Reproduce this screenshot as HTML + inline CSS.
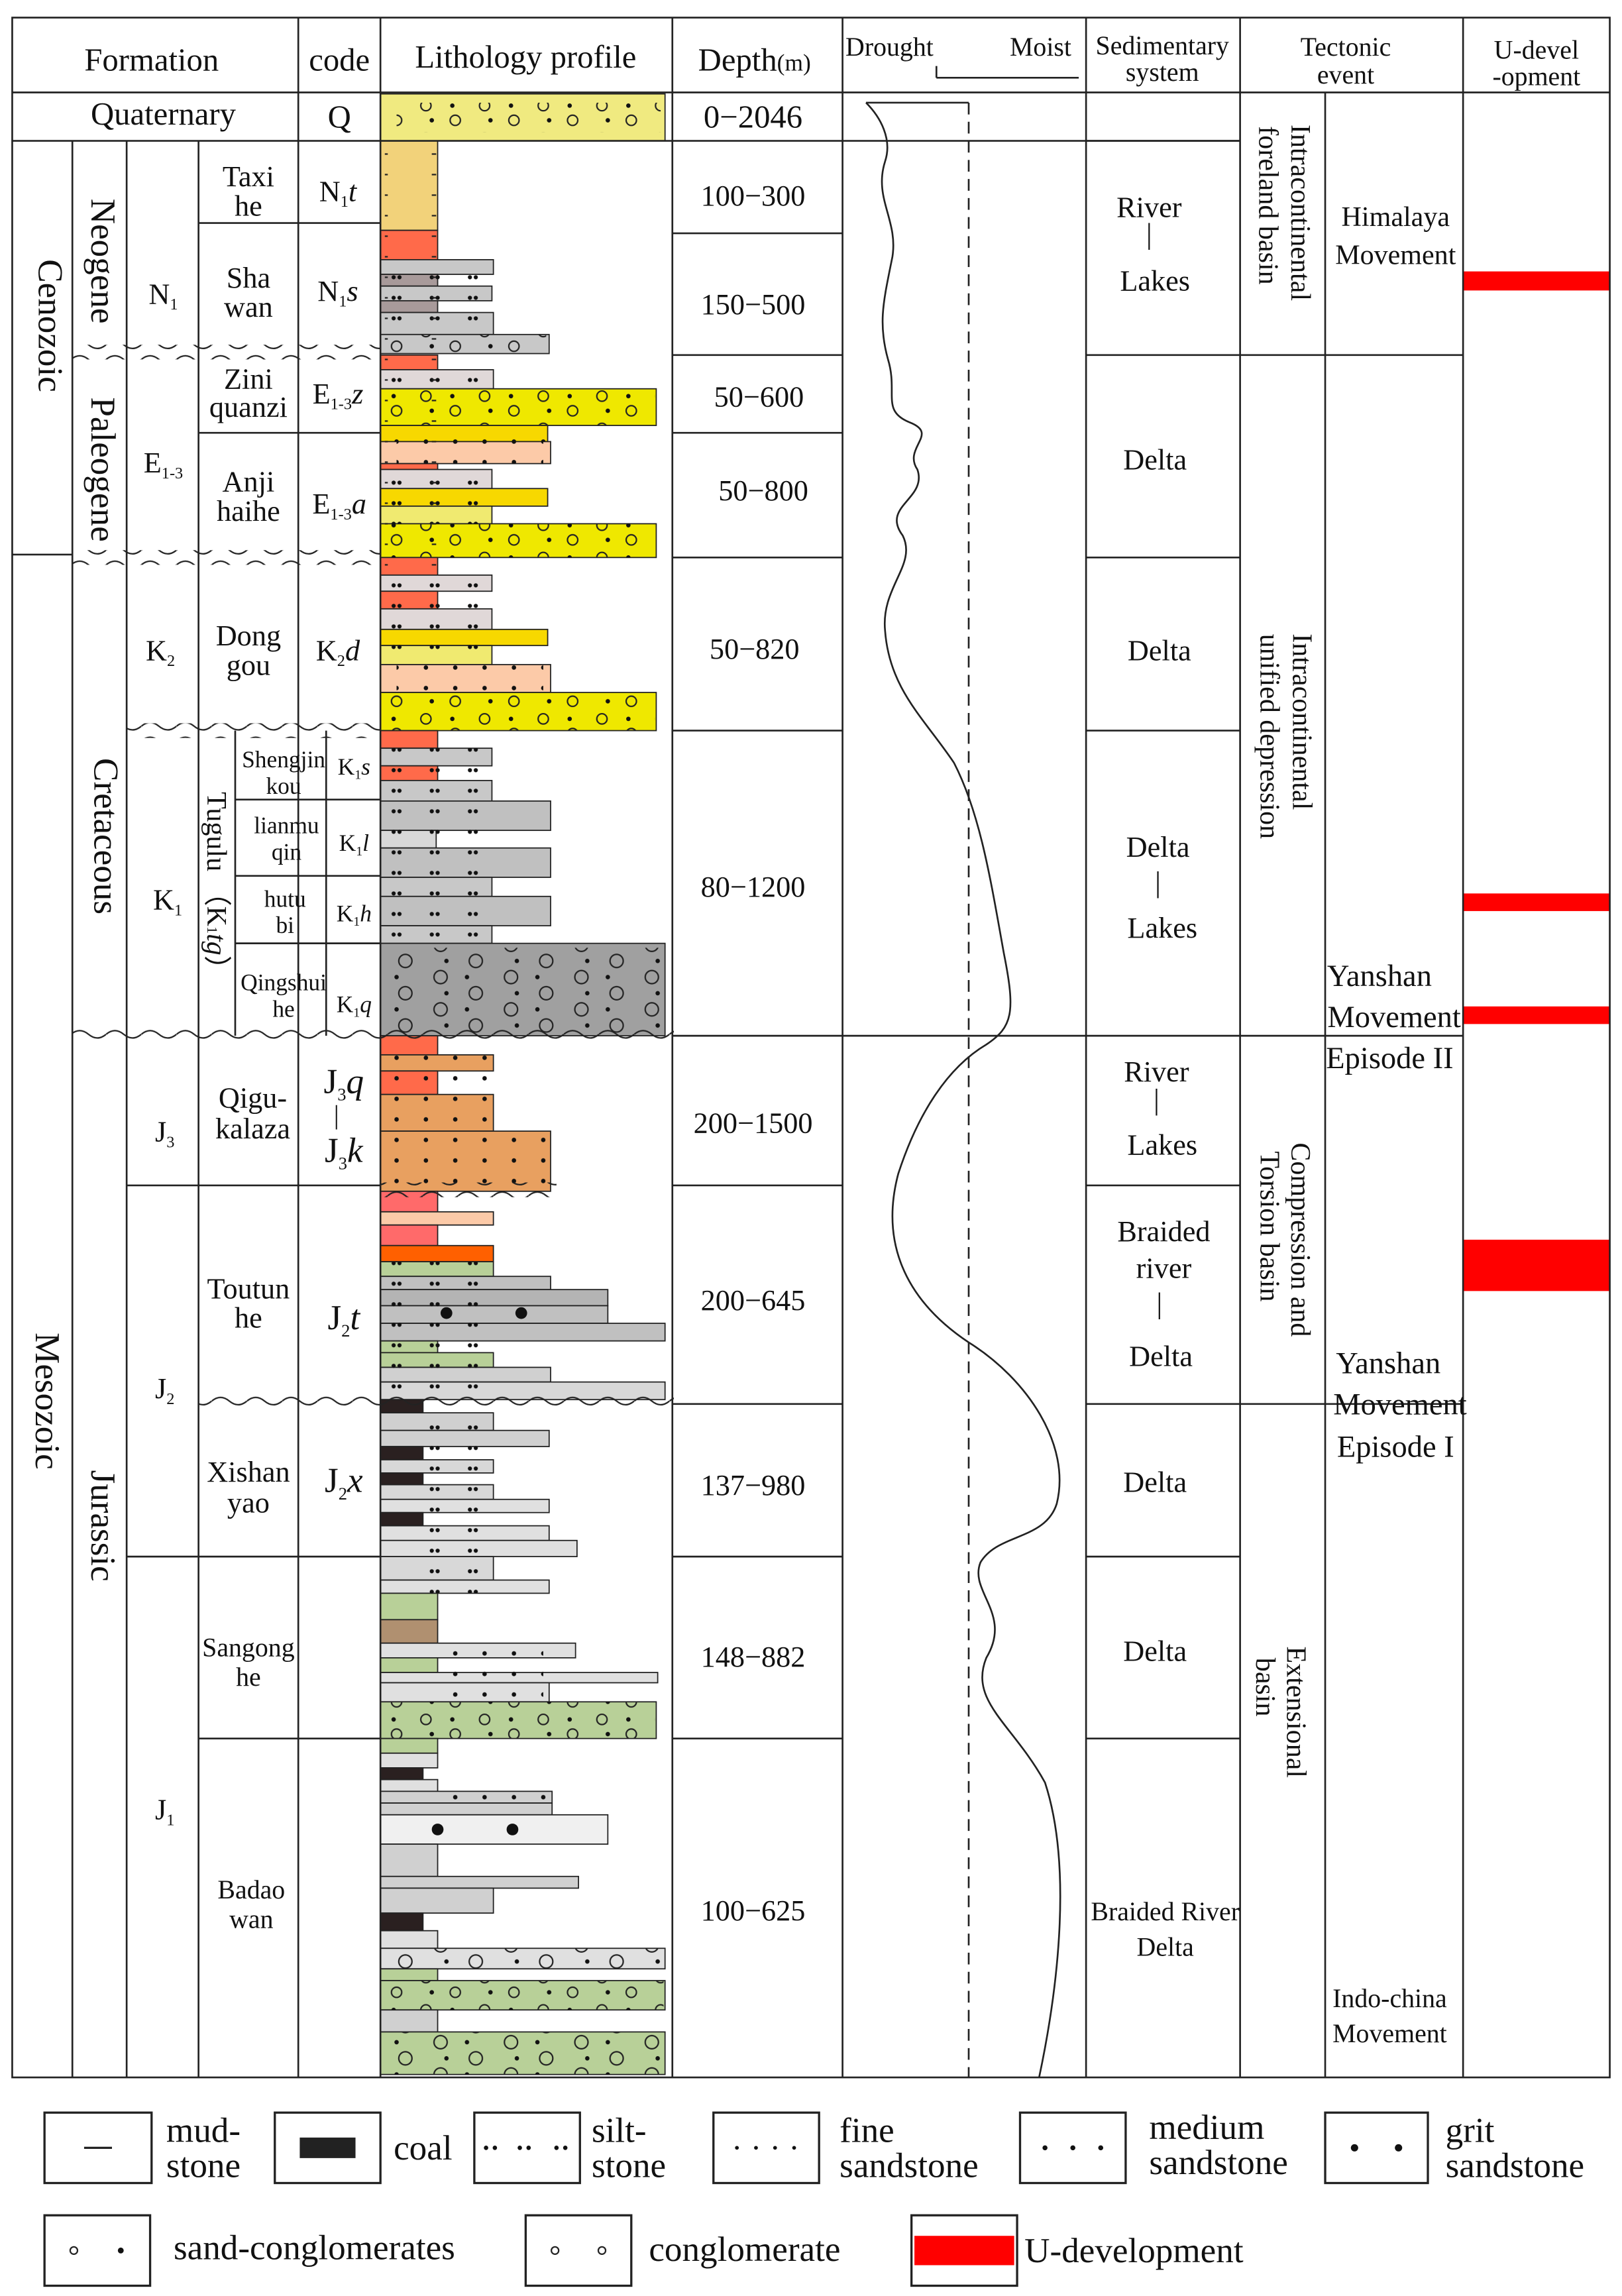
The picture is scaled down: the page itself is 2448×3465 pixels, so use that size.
<!DOCTYPE html>
<html><head><meta charset="utf-8"><style>html,body{margin:0;padding:0;background:#fff}svg{display:block}</style></head><body>
<svg xmlns="http://www.w3.org/2000/svg" width="2448" height="3465" viewBox="0 0 1105 1565" font-family="Liberation Serif, serif" fill="#111">
<defs>
<pattern id="wave" width="24" height="10" patternUnits="userSpaceOnUse"><path d="M0,5 Q6,0 12,5 T24,5" fill="none" stroke="#222" stroke-width="1"/></pattern>
<pattern id="silt" width="26" height="14" patternUnits="userSpaceOnUse"><circle cx="8" cy="7" r="1.4" fill="#111"/><circle cx="12" cy="7" r="1.4" fill="#111"/></pattern>
<pattern id="sand" width="20" height="14" patternUnits="userSpaceOnUse"><circle cx="10" cy="7" r="1.5" fill="#111"/></pattern>
<pattern id="cong" width="40" height="22" patternUnits="userSpaceOnUse"><circle cx="10" cy="6" r="3.5" fill="none" stroke="#222"/><circle cx="28" cy="6" r="1.5" fill="#111"/><circle cx="30" cy="16" r="3.5" fill="none" stroke="#222"/><circle cx="14" cy="16" r="1.5" fill="#111"/></pattern>
<pattern id="big" width="48" height="22" patternUnits="userSpaceOnUse"><circle cx="12" cy="6" r="4.5" fill="none" stroke="#222"/><circle cx="30" cy="6" r="1.5" fill="#111"/><circle cx="36" cy="17" r="4.5" fill="none" stroke="#222"/><circle cx="16" cy="17" r="1.5" fill="#111"/></pattern>
<pattern id="mud" width="40" height="14" patternUnits="userSpaceOnUse"><line x1="14" y1="7" x2="24" y2="7" stroke="#222"/></pattern>
</defs>
<g stroke="#222" stroke-width="0.8">
<rect x="259" y="64" width="194" height="32" fill="#f0ea80"/>
<rect x="259" y="96" width="39" height="61" fill="#f2d27a"/>
<rect x="259" y="157" width="39" height="20" fill="#ff6a4a"/>
<rect x="259" y="177" width="77" height="10" fill="#c8c8c8"/>
<rect x="259" y="187" width="39" height="8" fill="#a89a9a"/>
<rect x="259" y="195" width="76" height="10" fill="#c8c8c8"/>
<rect x="259" y="205" width="39" height="8" fill="#a89a9a"/>
<rect x="259" y="213" width="77" height="15" fill="#c8c8c8"/>
<rect x="259" y="228" width="115" height="13" fill="#c8c8c8"/>
<rect x="259" y="242" width="39" height="10" fill="#ff6a4a"/>
<rect x="259" y="252" width="77" height="13" fill="#e0d8d8"/>
<rect x="259" y="265" width="188" height="25" fill="#efe800"/>
<rect x="259" y="290" width="114" height="11" fill="#f7d800"/>
<rect x="259" y="301" width="116" height="15" fill="#fccaa8"/>
<rect x="259" y="316" width="39" height="4" fill="#ff6a4a"/>
<rect x="259" y="320" width="76" height="13" fill="#e0d8d8"/>
<rect x="259" y="333" width="114" height="12" fill="#f7d800"/>
<rect x="259" y="345" width="76" height="12" fill="#f0ea70"/>
<rect x="259" y="357" width="188" height="23" fill="#efe800"/>
<rect x="259" y="380" width="39" height="12" fill="#ff6a4a"/>
<rect x="259" y="392" width="76" height="11" fill="#e0d8d8"/>
<rect x="259" y="403" width="39" height="12" fill="#ff6a4a"/>
<rect x="259" y="415" width="76" height="14" fill="#e0d8d8"/>
<rect x="259" y="429" width="114" height="11" fill="#f7d800"/>
<rect x="259" y="440" width="76" height="13" fill="#f0ea70"/>
<rect x="259" y="453" width="116" height="19" fill="#fccaa8"/>
<rect x="259" y="472" width="188" height="26" fill="#efe800"/>
<rect x="259" y="498" width="39" height="12" fill="#ff6a4a"/>
<rect x="259" y="510" width="76" height="12" fill="#c8c8c8"/>
<rect x="259" y="522" width="39" height="10" fill="#ff6a4a"/>
<rect x="259" y="532" width="76" height="14" fill="#c8c8c8"/>
<rect x="259" y="546" width="116" height="20" fill="#c0c0c0"/>
<rect x="259" y="566" width="38" height="12" fill="#d8d8d8"/>
<rect x="259" y="578" width="116" height="20" fill="#c0c0c0"/>
<rect x="259" y="598" width="76" height="13" fill="#c8c8c8"/>
<rect x="259" y="611" width="116" height="20" fill="#c0c0c0"/>
<rect x="259" y="631" width="76" height="12" fill="#c8c8c8"/>
<rect x="259" y="643" width="194" height="63" fill="#a0a0a0"/>
<rect x="259" y="706" width="39" height="13" fill="#ff6a4a"/>
<rect x="259" y="719" width="77" height="11" fill="#e8a060"/>
<rect x="259" y="730" width="39" height="16" fill="#ff6a4a"/>
<rect x="259" y="746" width="77" height="25" fill="#e8a060"/>
<rect x="259" y="771" width="116" height="41" fill="#e8a060"/>
<rect x="259" y="812" width="39" height="14" fill="#ff6a6a"/>
<rect x="259" y="826" width="77" height="9" fill="#fccaa8"/>
<rect x="259" y="835" width="39" height="14" fill="#ff6a6a"/>
<rect x="259" y="849" width="77" height="11" fill="#ff6000"/>
<rect x="259" y="860" width="77" height="10" fill="#b8d098"/>
<rect x="259" y="870" width="116" height="9" fill="#c0c0c0"/>
<rect x="259" y="879" width="155" height="11" fill="#b4b4b4"/>
<rect x="259" y="890" width="155" height="12" fill="#c0c0c0"/>
<rect x="259" y="902" width="194" height="12" fill="#c0c0c0"/>
<rect x="259" y="914" width="39" height="8" fill="#b8d098"/>
<rect x="259" y="922" width="77" height="10" fill="#b8d098"/>
<rect x="259" y="932" width="116" height="10" fill="#d0d0d0"/>
<rect x="259" y="942" width="194" height="12" fill="#d8d8d8"/>
<rect x="259" y="954" width="29" height="9" fill="#2a2020"/>
<rect x="259" y="963" width="77" height="12" fill="#d0d0d0"/>
<rect x="259" y="975" width="115" height="11" fill="#d0d0d0"/>
<rect x="259" y="986" width="29" height="9" fill="#2a2020"/>
<rect x="259" y="995" width="77" height="9" fill="#d8d8d8"/>
<rect x="259" y="1004" width="29" height="8" fill="#2a2020"/>
<rect x="259" y="1012" width="77" height="10" fill="#d8d8d8"/>
<rect x="259" y="1022" width="115" height="9" fill="#e0e0e0"/>
<rect x="259" y="1031" width="29" height="9" fill="#2a2020"/>
<rect x="259" y="1040" width="115" height="10" fill="#e0e0e0"/>
<rect x="259" y="1050" width="134" height="11" fill="#e0e0e0"/>
<rect x="259" y="1061" width="77" height="16" fill="#d8d8d8"/>
<rect x="259" y="1077" width="115" height="9" fill="#e0e0e0"/>
<rect x="259" y="1086" width="39" height="18" fill="#b8d098"/>
<rect x="259" y="1104" width="39" height="16" fill="#b09070"/>
<rect x="259" y="1120" width="133" height="10" fill="#e0e0e0"/>
<rect x="259" y="1130" width="39" height="10" fill="#b8d098"/>
<rect x="259" y="1140" width="189" height="7" fill="#e0e0e0"/>
<rect x="259" y="1147" width="115" height="13" fill="#e0e0e0"/>
<rect x="259" y="1160" width="188" height="25" fill="#b8d098"/>
<rect x="259" y="1185" width="39" height="10" fill="#b8d098"/>
<rect x="259" y="1195" width="39" height="10" fill="#e0e0e0"/>
<rect x="259" y="1205" width="29" height="8" fill="#2a2020"/>
<rect x="259" y="1213" width="39" height="8" fill="#e0e0e0"/>
<rect x="259" y="1221" width="117" height="8" fill="#d0d0d0"/>
<rect x="259" y="1229" width="117" height="8" fill="#d0d0d0"/>
<rect x="259" y="1237" width="155" height="20" fill="#f0f0f0"/>
<rect x="259" y="1257" width="39" height="22" fill="#d0d0d0"/>
<rect x="259" y="1279" width="135" height="8" fill="#d0d0d0"/>
<rect x="259" y="1287" width="77" height="17" fill="#d0d0d0"/>
<rect x="259" y="1304" width="29" height="12" fill="#2a2020"/>
<rect x="259" y="1316" width="39" height="12" fill="#e0e0e0"/>
<rect x="259" y="1328" width="194" height="14" fill="#e0e0e0"/>
<rect x="259" y="1342" width="39" height="8" fill="#b8d098"/>
<rect x="259" y="1350" width="194" height="20" fill="#b8d098"/>
<rect x="259" y="1370" width="39" height="15" fill="#d0d0d0"/>
<rect x="259" y="1385" width="194" height="29" fill="#b8d098"/>
</g>
<g stroke="none">
<rect x="270" y="70" width="180" height="20" fill="url(#cong)"/>
<rect x="262" y="177" width="72" height="51" fill="url(#silt)"/>
<rect x="262" y="228" width="110" height="13" fill="url(#cong)"/>
<rect x="262" y="252" width="72" height="13" fill="url(#silt)"/>
<rect x="262" y="265" width="184" height="25" fill="url(#cong)"/>
<rect x="262" y="290" width="110" height="11" fill="url(#sand)"/>
<rect x="270" y="301" width="100" height="15" fill="url(#sand)"/>
<rect x="262" y="320" width="72" height="37" fill="url(#silt)"/>
<rect x="262" y="357" width="184" height="23" fill="url(#cong)"/>
<rect x="262" y="392" width="72" height="61" fill="url(#silt)"/>
<rect x="270" y="453" width="100" height="19" fill="url(#sand)"/>
<rect x="262" y="472" width="184" height="26" fill="url(#cong)"/>
<rect x="262" y="510" width="72" height="133" fill="url(#silt)"/>
<rect x="262" y="646" width="190" height="58" fill="url(#big)"/>
<rect x="262" y="719" width="72" height="52" fill="url(#sand)"/>
<rect x="262" y="774" width="110" height="36" fill="url(#sand)"/>
<rect x="262" y="860" width="72" height="94" fill="url(#silt)"/>
<circle cx="304" cy="895" r="4" fill="#111"/><circle cx="355" cy="895" r="4" fill="#111"/>
<rect x="290" y="963" width="44" height="123" fill="url(#silt)"/>
<rect x="300" y="1120" width="70" height="40" fill="url(#sand)"/>
<rect x="262" y="1160" width="184" height="25" fill="url(#cong)"/>
<rect x="300" y="1221" width="72" height="16" fill="url(#sand)"/>
<circle cx="298" cy="1247" r="4" fill="#111"/><circle cx="349" cy="1247" r="4" fill="#111"/>
<rect x="262" y="1328" width="190" height="14" fill="url(#big)"/>
<rect x="262" y="1350" width="190" height="20" fill="url(#cong)"/>
<rect x="262" y="1385" width="190" height="29" fill="url(#big)"/>
<rect x="262" y="96" width="35" height="300" fill="url(#mud)"/>
</g>
<g fill="#ff0000"><rect x="997" y="185" width="100" height="13"/><rect x="997" y="609" width="100" height="12"/><rect x="997" y="686" width="100" height="12"/><rect x="997" y="845" width="100" height="35"/></g>
<g stroke="#222" stroke-width="1.2" fill="none">
<rect x="8" y="12" width="1089" height="1404"/>
<line x1="8" y1="63" x2="1097" y2="63"/>
<line x1="8" y1="96" x2="845" y2="96"/>
<line x1="203" y1="12" x2="203" y2="96"/><line x1="259" y1="12" x2="259" y2="1416"/><line x1="458" y1="12" x2="458" y2="1416"/>
<line x1="574" y1="12" x2="574" y2="1416"/><line x1="740" y1="12" x2="740" y2="1416"/><line x1="845" y1="12" x2="845" y2="1416"/><line x1="997" y1="12" x2="997" y2="1416"/>
<line x1="903" y1="63" x2="903" y2="1416"/>
<line x1="49" y1="96" x2="49" y2="1416"/><line x1="86" y1="96" x2="86" y2="1416"/><line x1="135" y1="96" x2="135" y2="1416"/><line x1="203" y1="96" x2="203" y2="1416"/>
<line x1="8" y1="378" x2="49" y2="378"/>
<line x1="135" y1="152" x2="259" y2="152"/>
<line x1="135" y1="295" x2="259" y2="295"/>
<line x1="160" y1="498" x2="160" y2="706"/><line x1="222" y1="498" x2="222" y2="706"/>
<line x1="160" y1="545" x2="259" y2="545"/><line x1="160" y1="597" x2="259" y2="597"/><line x1="160" y1="643" x2="259" y2="643"/>
<line x1="86" y1="808" x2="259" y2="808"/>
<line x1="86" y1="1061" x2="259" y2="1061"/><line x1="135" y1="1185" x2="259" y2="1185"/>
<line x1="458" y1="159" x2="574" y2="159"/><line x1="458" y1="242" x2="574" y2="242"/><line x1="458" y1="295" x2="574" y2="295"/><line x1="458" y1="380" x2="574" y2="380"/><line x1="458" y1="498" x2="574" y2="498"/><line x1="458" y1="706" x2="997" y2="706"/><line x1="458" y1="808" x2="574" y2="808"/><line x1="458" y1="957" x2="574" y2="957"/><line x1="458" y1="1061" x2="574" y2="1061"/><line x1="458" y1="1185" x2="574" y2="1185"/>
<line x1="740" y1="96" x2="845" y2="96"/><line x1="740" y1="242" x2="997" y2="242"/><line x1="740" y1="380" x2="845" y2="380"/><line x1="740" y1="498" x2="845" y2="498"/><line x1="740" y1="808" x2="845" y2="808"/><line x1="740" y1="957" x2="997" y2="957"/><line x1="740" y1="1061" x2="845" y2="1061"/><line x1="740" y1="1185" x2="845" y2="1185"/>
<line x1="638" y1="53" x2="735" y2="53"/><line x1="638" y1="45" x2="638" y2="53"/>
<line x1="660" y1="70" x2="660" y2="1416" stroke-dasharray="8,5"/>
<line x1="590" y1="70" x2="660" y2="70"/>
<path d="M590,70 C600,80 608,95 603,110 C595,135 612,150 608,175 C602,205 598,220 605,245 C612,268 600,280 620,288 C640,296 615,305 625,320 C632,340 600,345 615,365 C625,385 600,400 603,430 C606,470 630,490 650,520 C668,555 675,600 684,650 C692,690 690,700 672,712 C645,728 625,760 612,800 C600,845 615,885 660,915 C700,940 730,985 720,1025 C712,1050 680,1045 668,1065 C660,1085 690,1100 672,1130 C660,1160 690,1175 712,1215 C730,1270 722,1350 708,1416"/>
</g>
<g fill="url(#wave)"><rect x="49" y="235" width="210" height="10"/><rect x="49" y="375" width="210" height="10"/><rect x="86" y="493" width="173" height="10"/><rect x="49" y="701" width="410" height="10"/><rect x="135" y="950" width="324" height="10"/><rect x="259" y="806" width="120" height="10"/></g>
<g font-size="22" text-anchor="middle">
<text x="103" y="48">Formation</text><text x="231" y="48">code</text><text x="358" y="46">Lithology profile</text><text x="514" y="48">Depth<tspan font-size="16">(m)</tspan></text>
<text x="111" y="85">Quaternary</text><text x="231" y="87">Q</text><text x="513" y="87">0−2046</text>
</g>
<g font-size="18" text-anchor="middle">
<text x="606" y="38">Drought</text><text x="709" y="38">Moist</text>
<text x="792" y="37">Sedimentary</text><text x="792" y="55">system</text>
<text x="917" y="38">Tectonic</text><text x="917" y="57">event</text>
<text x="1047" y="40">U-devel</text><text x="1047" y="58">-opment</text>
</g>
<g font-size="20" text-anchor="middle">
<text x="169" y="127">Taxi</text><text x="169" y="147">he</text><text x="169" y="196">Sha</text><text x="169" y="216">wan</text>
<text x="169" y="265">Zini</text><text x="169" y="284">quanzi</text><text x="169" y="335">Anji</text><text x="169" y="355">haihe</text>
<text x="169" y="440">Dong</text><text x="169" y="460">gou</text>
<text x="172" y="755">Qigu-</text><text x="172" y="776">kalaza</text>
<text x="169" y="885">Toutun</text><text x="169" y="905">he</text><text x="169" y="1010">Xishan</text><text x="169" y="1031">yao</text>
<text x="111" y="207">N<tspan font-size="11" dy="4">1</tspan></text>
<text x="111" y="322">E<tspan font-size="11" dy="4">1-3</tspan></text>
<text x="109" y="450">K<tspan font-size="11" dy="4">2</tspan></text>
<text x="114" y="620">K<tspan font-size="11" dy="4">1</tspan></text>
<text x="112" y="778">J<tspan font-size="11" dy="4">3</tspan></text>
<text x="112" y="953">J<tspan font-size="11" dy="4">2</tspan></text>
<text x="112" y="1240">J<tspan font-size="11" dy="4">1</tspan></text>
<text x="230" y="137">N<tspan font-size="11" dy="4">1</tspan><tspan dy="-4" font-style="italic">t</tspan></text>
<text x="230" y="205">N<tspan font-size="11" dy="4">1</tspan><tspan dy="-4" font-style="italic">s</tspan></text>
<text x="230" y="275">E<tspan font-size="11" dy="4">1-3</tspan><tspan dy="-4" font-style="italic">z</tspan></text>
<text x="231" y="350">E<tspan font-size="11" dy="4">1-3</tspan><tspan dy="-4" font-style="italic">a</tspan></text>
<text x="230" y="450">K<tspan font-size="11" dy="4">2</tspan><tspan dy="-4" font-style="italic">d</tspan></text>
<text x="513" y="140">100−300</text><text x="513" y="214">150−500</text><text x="517" y="277">50−600</text><text x="520" y="341">50−800</text>
<text x="514" y="449">50−820</text><text x="513" y="611">80−1200</text><text x="513" y="772">200−1500</text><text x="513" y="893">200−645</text>
<text x="513" y="1019">137−980</text><text x="513" y="1136">148−882</text><text x="513" y="1309">100−625</text>
<text x="783" y="148">River</text><text x="783" y="166">|</text><text x="787" y="198">Lakes</text>
<text x="787" y="320">Delta</text><text x="790" y="450">Delta</text>
<text x="789" y="584">Delta</text><text x="789" y="608">|</text><text x="792" y="639">Lakes</text>
<text x="788" y="737">River</text><text x="788" y="756">|</text><text x="792" y="787">Lakes</text>
<text x="793" y="846">Braided</text><text x="793" y="871">river</text><text x="790" y="895">|</text><text x="791" y="931">Delta</text>
<text x="787" y="1017">Delta</text><text x="787" y="1132">Delta</text>
</g>
<g font-size="24" text-anchor="middle" font-style="italic">
<text x="234" y="745"><tspan font-style="normal">J</tspan><tspan font-size="12" dy="5" font-style="normal">3</tspan><tspan dy="-5">q</tspan></text>
<text x="229" y="766" font-style="normal" font-size="18">|</text>
<text x="234" y="792"><tspan font-style="normal">J</tspan><tspan font-size="12" dy="5" font-style="normal">3</tspan><tspan dy="-5">k</tspan></text>
<text x="234" y="906"><tspan font-style="normal">J</tspan><tspan font-size="12" dy="5" font-style="normal">2</tspan><tspan dy="-5">t</tspan></text>
<text x="234" y="1017"><tspan font-style="normal">J</tspan><tspan font-size="12" dy="5" font-style="normal">2</tspan><tspan dy="-5">x</tspan></text>
</g>
<g font-size="16" text-anchor="middle">
<text x="193" y="523">Shengjin</text><text x="193" y="541">kou</text><text x="195" y="568">lianmu</text><text x="195" y="586">qin</text>
<text x="194" y="618">hutu</text><text x="194" y="636">bi</text><text x="193" y="675">Qingshui</text><text x="193" y="693">he</text>
<text x="241" y="528">K<tspan font-size="9" dy="3">1</tspan><tspan dy="-3" font-style="italic">s</tspan></text>
<text x="241" y="580">K<tspan font-size="9" dy="3">1</tspan><tspan dy="-3" font-style="italic">l</tspan></text>
<text x="241" y="628">K<tspan font-size="9" dy="3">1</tspan><tspan dy="-3" font-style="italic">h</tspan></text>
<text x="241" y="690">K<tspan font-size="9" dy="3">1</tspan><tspan dy="-3" font-style="italic">q</tspan></text>
<text x="169" y="1129" font-size="18">Sangong</text><text x="169" y="1149" font-size="18">he</text>
<text x="171" y="1294" font-size="18">Badao</text><text x="171" y="1314" font-size="18">wan</text>
<text x="951" y="154" font-size="19">Himalaya</text><text x="951" y="180" font-size="19">Movement</text>
<text x="940" y="672" font-size="21">Yanshan</text><text x="950" y="700" font-size="21">Movement</text><text x="947" y="728" font-size="21">Episode II</text>
<text x="946" y="936" font-size="21">Yanshan</text><text x="954" y="964" font-size="21">Movement</text><text x="951" y="993" font-size="21">Episode I</text>
<text x="947" y="1368" font-size="18">Indo-china</text><text x="947" y="1392" font-size="18">Movement</text>
<text x="794" y="1309" font-size="18">Braided River</text><text x="794" y="1333" font-size="18">Delta</text>
</g>
<g font-size="24" text-anchor="middle">
<text transform="translate(26,222) rotate(90)">Cenozoic</text>
<text transform="translate(24,955) rotate(90)">Mesozoic</text>
<text transform="translate(62,178) rotate(90)">Neogene</text>
<text transform="translate(62,320) rotate(90)">Paleogene</text>
<text transform="translate(64,570) rotate(90)">Cretaceous</text>
<text transform="translate(62,1040) rotate(90)">Jurassic</text>
</g>
<g font-size="19" text-anchor="middle">
<text transform="translate(141,605) rotate(90)">Tugulu （K<tspan font-size="10">1</tspan><tspan font-style="italic">tg</tspan>）</text>
<text transform="translate(880,145) rotate(90)">Intracontinental</text>
<text transform="translate(858,140) rotate(90)">foreland basin</text>
<text transform="translate(881,492) rotate(90)">Intracontinental</text>
<text transform="translate(859,502) rotate(90)">unified depression</text>
<text transform="translate(880,845) rotate(90)">Compression and</text>
<text transform="translate(859,836) rotate(90)">Torsion basin</text>
<text transform="translate(877,1167) rotate(90)">Extensional</text>
<text transform="translate(856,1150) rotate(90)">basin</text>
</g>
<g stroke="#222" stroke-width="1.5" fill="#fff">
<rect x="30" y="1440" width="73" height="48"/><rect x="187" y="1440" width="72" height="48"/><rect x="323" y="1440" width="72" height="48"/>
<rect x="486" y="1440" width="72" height="48"/><rect x="695" y="1440" width="72" height="48"/><rect x="903" y="1440" width="70" height="48"/>
<rect x="30" y="1510" width="72" height="48"/><rect x="358" y="1510" width="72" height="48"/><rect x="621" y="1510" width="72" height="48"/>
</g>
<line x1="57" y1="1464" x2="76" y2="1464" stroke="#222" stroke-width="1.5"/>
<rect x="204" y="1457" width="38" height="14" fill="#222"/>
<rect x="623" y="1524" width="68" height="20" fill="#ff0000"/>
<g fill="#111">
<circle cx="331" cy="1464" r="1.5"/><circle cx="337" cy="1464" r="1.5"/><circle cx="354" cy="1464" r="1.5"/><circle cx="360" cy="1464" r="1.5"/><circle cx="379" cy="1464" r="1.5"/><circle cx="385" cy="1464" r="1.5"/>
<circle cx="502" cy="1464" r="1.3"/><circle cx="515" cy="1464" r="1.3"/><circle cx="528" cy="1464" r="1.3"/><circle cx="541" cy="1464" r="1.3"/>
<circle cx="712" cy="1464" r="1.7"/><circle cx="731" cy="1464" r="1.7"/><circle cx="750" cy="1464" r="1.7"/>
<circle cx="923" cy="1464" r="2.5"/><circle cx="953" cy="1464" r="2.5"/>
<circle cx="82" cy="1534" r="2"/>
</g>
<g fill="none" stroke="#222"><circle cx="50" cy="1534" r="2.5"/><circle cx="378" cy="1534" r="2.5"/><circle cx="410" cy="1534" r="2.5"/></g>
<g font-size="24">
<text x="113" y="1460">mud-</text><text x="113" y="1484">stone</text>
<text x="268" y="1472">coal</text>
<text x="403" y="1460">silt-</text><text x="403" y="1484">stone</text>
<text x="572" y="1460">fine</text><text x="572" y="1484">sandstone</text>
<text x="783" y="1458">medium</text><text x="783" y="1482">sandstone</text>
<text x="985" y="1460">grit</text><text x="985" y="1484">sandstone</text>
<text x="118" y="1540">sand-conglomerates</text>
<text x="442" y="1541">conglomerate</text>
<text x="698" y="1542">U-development</text>
</g>
</svg>
</body></html>
